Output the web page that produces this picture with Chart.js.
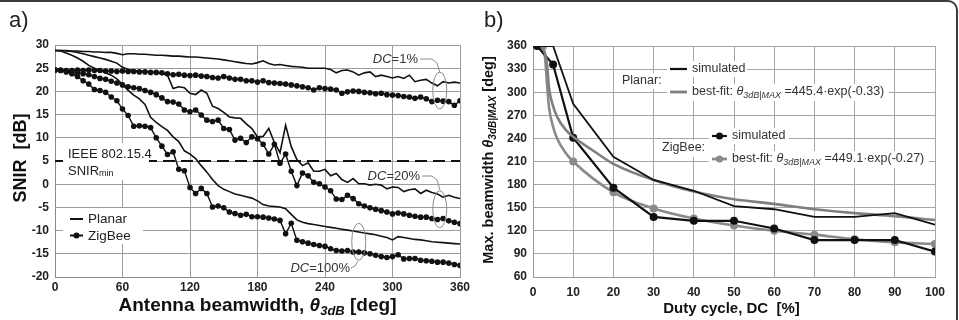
<!DOCTYPE html>
<html>
<head>
<meta charset="utf-8">
<script src="https://cdn.jsdelivr.net/npm/chart.js@4.4.1/dist/chart.umd.min.js"></script>
<style>
  html, body { margin: 0; padding: 0; background: #fff; }
  #wrap { position: relative; width: 959px; height: 320px; overflow: hidden; }
  #frame { position: absolute; left: -12px; top: 0; width: 970px; height: 340px; border: 2px solid #3c3c3c; border-radius: 10px; box-sizing: border-box; }
  canvas { position: absolute; top: 0; }
  #ca { left: 0; }
  #cb { left: 479px; }
</style>
</head>
<body>
<div id="wrap">
  <div id="frame"></div>
  <canvas id="ca" width="479" height="320"></canvas>
  <canvas id="cb" width="480" height="320"></canvas>
</div>
<script>
// ---- panel a) SNIR vs antenna beamwidth ----
const angleDeg = [0, 5, 10, 15, 20, 25, 30, 35, 40, 45, 50, 55,
  60, 65, 70, 75, 80, 85, 90, 95, 100, 105, 110, 115,
  120, 125, 130, 135, 140, 145, 150, 155, 160, 165, 170, 175,
  180, 185, 190, 195, 200, 205, 210, 215, 220, 225, 230, 235,
  240, 245, 250, 255, 260, 265, 270, 275, 280, 285, 290, 295,
  300, 305, 310, 315, 320, 325, 330, 335, 340, 345, 350, 355,
  360];

const planarDC1 = [28.8, 28.8, 28.8, 28.7, 28.7, 28.6, 28.6, 28.5, 28.5, 28.4, 28.4, 28.2,
  27.9, 28.1, 28.1, 28.0, 28.0, 27.9, 27.8, 27.8, 27.7, 27.6, 27.6, 27.5,
  27.4, 27.4, 27.3, 27.2, 27.1, 27.0, 26.8, 26.6, 26.4, 26.2, 26.0, 25.9,
  26.2, 26.6, 26.0, 25.7, 25.8, 25.6, 25.4, 25.3, 25.2, 25.0, 25.0, 25.0,
  25.0, 24.7, 24.0, 24.5, 24.6, 24.2, 23.5, 24.0, 24.2, 23.2, 23.5, 23.2,
  22.9, 23.2, 22.8, 23.5, 22.1, 22.4, 22.6, 21.8, 21.2, 22.1, 21.8, 22.0,
  21.8];

const zigbeeDC1 = [24.6, 24.6, 24.5, 24.5, 24.6, 24.5, 24.6, 24.5, 24.5, 24.4, 24.4, 24.3,
  24.4, 24.3, 24.3, 24.2, 24.2, 24.1, 24.1, 24.0, 23.8, 23.6, 23.7, 23.5,
  23.4, 23.5, 23.3, 23.2, 23.0, 22.9, 23.2, 22.9, 22.6, 22.6, 22.3, 22.3,
  22.0, 22.3, 21.9, 21.8, 21.7, 21.6, 21.4, 21.2, 21.0, 20.8, 20.3, 20.8,
  20.6, 20.5, 20.3, 19.6, 19.9, 20.1, 20.0, 19.8, 19.7, 19.5, 19.6, 19.3,
  19.2, 19.1, 18.9, 18.8, 18.5, 18.8, 18.4, 17.8, 18.1, 17.9, 17.8, 17.0,
  18.0];

const planarDC20 = [28.8, 28.8, 28.7, 28.6, 28.4, 28.1, 27.8, 27.5, 27.2, 26.9, 26.5, 26.1,
  25.2, 24.7, 24.5, 24.4, 24.3, 24.2, 24.0, 23.8, 23.5, 20.6, 21.0, 20.8,
  19.6, 19.3, 20.3, 19.6, 16.8, 16.3, 15.5, 14.5, 14.3, 14.2, 13.0, 12.0,
  10.2, 10.3, 12.0, 9.0, 6.8, 12.7, 8.1, 5.3, 4.0, 4.6, 2.8, 2.8,
  3.2, 1.8, 2.3, 1.0, 0.4, 1.2, 0.1, 0.1, -0.2, 0.0, -0.2, -1.0,
  -0.6, -0.7, -1.6, -1.2, -1.0, -2.0, -1.3, -1.8, -2.1, -2.8, -2.4, -2.8,
  -3.1];

const zigbeeDC20 = [24.6, 24.5, 24.4, 24.2, 24.0, 23.8, 23.6, 23.2, 22.8, 22.6, 22.2, 21.8,
  21.4, 21.0, 20.8, 20.6, 20.2, 19.8, 19.3, 18.6, 17.8, 17.7, 17.3, 16.0,
  15.6, 16.0, 14.9, 13.8, 13.5, 13.8, 12.0, 11.8, 9.5, 9.9, 9.0, 10.2,
  9.8, 8.6, 6.5, 8.6, 4.5, 6.5, 2.8, -0.3, 2.4, 1.8, 0.4, 0.1,
  -0.6, -1.4, -3.2, -3.3, -2.4, -3.1, -4.2, -4.7, -5.1, -5.4, -5.7, -6.0,
  -6.4, -6.2, -6.4, -6.7, -6.9, -7.1, -7.1, -7.4, -7.6, -7.4, -7.9, -8.2,
  -8.5];

const planarDC100 = [28.8, 28.7, 28.3, 27.8, 27.2, 26.5, 25.6, 25.0, 24.5, 24.0, 23.5, 22.7,
  21.5, 20.2, 19.2, 18.4, 17.2, 14.4, 13.3, 12.4, 11.6, 10.2, 9.2, 7.2,
  6.5, 5.5, 4.0, 2.6, 1.0, -0.3, -1.1, -1.6, -2.1, -2.4, -2.7, -3.0,
  -3.6, -4.4, -4.7, -4.8, -4.9, -5.3, -6.5, -7.7, -8.2, -8.5, -8.7, -8.9,
  -9.1, -9.3, -9.5, -9.7, -9.9, -10.1, -10.3, -10.5, -10.7, -10.9, -11.2, -11.5,
  -12.0, -11.3, -11.5, -11.7, -11.9, -12.0, -12.2, -12.4, -12.5, -12.6, -12.7, -12.8,
  -12.9];

const zigbeeDC100 = [24.6, 24.5, 24.2, 23.8, 23.2, 22.3, 21.6, 20.4, 20.2, 19.8, 18.8, 18.0,
  16.2, 14.8, 12.5, 12.6, 12.5, 12.2, 10.0, 8.2, 6.4, 7.0, 3.2, 2.9,
  -0.7, -2.0, -0.9, -2.0, -4.9, -4.7, -5.1, -6.0, -6.3, -6.7, -6.5, -7.0,
  -7.0, -7.1, -7.3, -7.5, -7.8, -10.7, -8.4, -12.1, -12.4, -12.7, -13.0, -13.2,
  -13.4, -13.9, -14.3, -14.4, -14.3, -14.6, -14.6, -14.8, -15.0, -15.3, -15.6, -15.8,
  -15.6, -15.2, -16.1, -16.0, -16.0, -16.4, -16.5, -16.6, -16.8, -16.8, -17.0, -17.3,
  -17.5];

const snirMin = 5; // IEEE 802.15.4 threshold [dB]

// ---- panel b) max beamwidth vs duty cycle ----
const planarSimDC = [1, 5, 10, 20, 30, 40, 50, 60, 70, 80, 90, 100];
const planarSim = [360, 360, 285, 216, 186, 172, 152, 148, 138, 138, 143, 128];
const planarFitDC = [2, 3, 3.5, 4, 5, 6, 8, 10, 15, 20, 30, 40, 50, 60, 70, 80, 90, 100];
const planarFit = [360, 350, 335, 305, 282, 268, 252, 242, 224, 207, 186, 171, 161, 155, 148, 143, 139, 134];
const zigbeeSimDC = [1, 5, 10, 20, 30, 40, 50, 60, 70, 80, 90, 100];
const zigbeeSim = [360, 336, 241, 176, 138, 133, 133, 123, 108, 108, 108, 93];
const zigbeeFitDC = [2.5, 3, 3.5, 4, 5, 6, 8, 10, 20, 30, 40, 50, 60, 70, 80, 90, 100];
const zigbeeFit = [360, 345, 310, 280, 255, 240, 222, 210, 170, 149, 136, 127, 120, 115, 109, 105, 103];
const zigbeeFitMarked = [2.5, 10, 20, 30, 40, 50, 60, 70, 80, 90, 100];

const FONT = '"Liberation Sans", Arial, sans-serif';
const pts = (xs, ys) => xs.map((x, i) => ({ x: x, y: ys[i] }));

// draws a run of text pieces with different fonts (for subscripts)
function richText(ctx, parts, x, y, align) {
  let w = 0;
  parts.forEach(p => { ctx.font = p.f; p.w = ctx.measureText(p.t).width; w += p.w; });
  let cx = align === 'center' ? x - w / 2 : (align === 'right' ? x - w : x);
  ctx.textAlign = 'left';
  ctx.textBaseline = 'middle';
  parts.forEach(p => { ctx.font = p.f; ctx.fillText(p.t, cx, y + (p.dy || 0)); cx += p.w; });
  return w;
}

function whiteBox(ctx, x, y, w, h) {
  ctx.fillStyle = '#fff';
  ctx.fillRect(x, y, w, h);
}

const decorA = {
  id: 'decorA',
  afterDraw(chart) {
    const ctx = chart.ctx, xs = chart.scales.x, ys = chart.scales.y;
    ctx.save();

    // IEEE threshold label
    whiteBox(ctx, 63, 143, 86, 37);
    ctx.fillStyle = '#222';
    richText(ctx, [{ t: 'IEEE 802.15.4', f: '13px ' + FONT }], 68, 154, 'left');
    richText(ctx, [{ t: 'SNIR', f: '13px ' + FONT }, { t: 'min', f: '9px ' + FONT, dy: 3 }], 68, 171, 'left');

    // legend
    whiteBox(ctx, 63, 208, 80, 36);
    ctx.strokeStyle = '#111';
    ctx.lineWidth = 2;
    ctx.beginPath(); ctx.moveTo(70, 219); ctx.lineTo(83, 219); ctx.stroke();
    ctx.beginPath(); ctx.moveTo(70, 235.5); ctx.lineTo(83, 235.5); ctx.stroke();
    ctx.fillStyle = '#111';
    ctx.beginPath(); ctx.arc(76.5, 235.5, 3, 0, Math.PI * 2); ctx.fill();
    ctx.fillStyle = '#222';
    richText(ctx, [{ t: 'Planar', f: '13.5px ' + FONT }], 88, 219, 'left');
    richText(ctx, [{ t: 'ZigBee', f: '13.5px ' + FONT }], 88, 236, 'left');

    // DC annotations with ellipses
    const notes = [
      { txt: '1%', tx: 418, ty: 59, ex: 342, ev: 20.2, lead: [[420, 59], [432, 59], [437, 63], [440, 73]] },
      { txt: '20%', tx: 420, ty: 176, ex: 342, ev: -5.4, lead: [[422, 176], [432, 176], [437, 180], [440, 190]] },
      { txt: '100%', tx: 350, ty: 268, ex: 270, ev: -12.4, lead: [[351, 268], [355, 266], [358, 261]] }
    ];
    notes.forEach(n => {
      ctx.fillStyle = '#333';
      richText(ctx, [{ t: 'DC', f: 'italic 13px ' + FONT }, { t: '=' + n.txt, f: '13px ' + FONT }], n.tx, n.ty, 'right');
      ctx.strokeStyle = '#8a8a8a';
      ctx.lineWidth = 1;
      ctx.beginPath();
      n.lead.forEach((p, i) => i ? ctx.lineTo(p[0], p[1]) : ctx.moveTo(p[0], p[1]));
      ctx.stroke();
      ctx.beginPath();
      ctx.ellipse(xs.getPixelForValue(n.ex), ys.getPixelForValue(n.ev), 7, 18.5, 0, 0, Math.PI * 2);
      ctx.stroke();
    });

    // axis titles
    ctx.fillStyle = '#111';
    richText(ctx, [
      { t: 'Antenna beamwidth, ', f: 'bold 19px ' + FONT },
      { t: '\u03b8', f: 'italic bold 19px ' + FONT },
      { t: '3dB', f: 'italic bold 13px ' + FONT, dy: 5 },
      { t: ' [deg]', f: 'bold 19px ' + FONT }
    ], 257.5, 306, 'center');
    ctx.save();
    ctx.translate(21, 158);
    ctx.rotate(-Math.PI / 2);
    richText(ctx, [{ t: 'SNIR  [dB]', f: 'bold 18px ' + FONT }], 0, 0, 'center');
    ctx.restore();

    ctx.fillStyle = '#222';
    richText(ctx, [{ t: 'a)', f: '22px ' + FONT }], 9, 21, 'left');
    ctx.restore();
  }
};

const decorB = {
  id: 'decorB',
  afterDraw(chart) {
    const ctx = chart.ctx;
    const o = 479; // canvas offset in page
    ctx.save();
    const f = '12.5px ' + FONT;
    const fit = coef => [
      { t: 'best-fit: ', f: f },
      { t: '\u03b8', f: 'italic ' + f },
      { t: '3dB|MAX', f: 'italic 9px ' + FONT, dy: 3 },
      { t: ' =' + coef, f: f }
    ];

    // Planar legend
    ctx.font = f;
    whiteBox(ctx, 620 - o, 73, 45, 16);
    whiteBox(ctx, 667 - o, 61, 80, 16);
    whiteBox(ctx, 667 - o, 84, 222, 17);
    ctx.fillStyle = '#333';
    richText(ctx, [{ t: 'Planar:', f: f }], 622 - o, 81, 'left');
    richText(ctx, [{ t: 'simulated', f: f }], 692 - o, 69, 'left');
    richText(ctx, fit('445.4\u00b7exp(-0.33)'), 692 - o, 92, 'left');
    ctx.lineWidth = 2.2;
    ctx.strokeStyle = '#111';
    ctx.beginPath(); ctx.moveTo(670 - o, 69); ctx.lineTo(687 - o, 69); ctx.stroke();
    ctx.strokeStyle = '#7f7f7f';
    ctx.lineWidth = 2.8;
    ctx.beginPath(); ctx.moveTo(670 - o, 92); ctx.lineTo(687 - o, 92); ctx.stroke();

    // ZigBee legend
    whiteBox(ctx, 660 - o, 140, 48, 17);
    whiteBox(ctx, 709 - o, 128, 80, 16);
    whiteBox(ctx, 709 - o, 151, 220, 17);
    ctx.fillStyle = '#333';
    richText(ctx, [{ t: 'ZigBee:', f: f }], 662 - o, 148, 'left');
    richText(ctx, [{ t: 'simulated', f: f }], 732 - o, 136, 'left');
    richText(ctx, fit('449.1\u00b7exp(-0.27)'), 732 - o, 159, 'left');
    ctx.lineWidth = 2.2;
    ctx.strokeStyle = '#111';
    ctx.fillStyle = '#111';
    ctx.beginPath(); ctx.moveTo(712 - o, 136); ctx.lineTo(727 - o, 136); ctx.stroke();
    ctx.beginPath(); ctx.arc(719.5 - o, 136, 3.5, 0, Math.PI * 2); ctx.fill();
    ctx.strokeStyle = '#8a8a8a';
    ctx.fillStyle = '#8a8a8a';
    ctx.lineWidth = 2.8;
    ctx.beginPath(); ctx.moveTo(712 - o, 159); ctx.lineTo(727 - o, 159); ctx.stroke();
    ctx.beginPath(); ctx.arc(719.5 - o, 159, 3.5, 0, Math.PI * 2); ctx.fill();

    // axis titles
    ctx.fillStyle = '#111';
    richText(ctx, [{ t: 'Duty cycle, DC  [%]', f: 'bold 15px ' + FONT }], 731.5 - o, 309, 'center');
    ctx.save();
    ctx.translate(489 - o, 160);
    ctx.rotate(-Math.PI / 2);
    richText(ctx, [
      { t: 'Max. beamwidth ', f: 'bold 14.5px ' + FONT },
      { t: '\u03b8', f: 'italic bold 14.5px ' + FONT },
      { t: '3dB|MAX', f: 'italic bold 10px ' + FONT, dy: 4 },
      { t: ' [deg]', f: 'bold 14.5px ' + FONT }
    ], 0, 0, 'center');
    ctx.restore();

    ctx.fillStyle = '#222';
    richText(ctx, [{ t: 'b)', f: '22px ' + FONT }], 484 - o, 21, 'left');
    ctx.restore();
  }
};

const tickFont = { family: FONT, size: 12, weight: 'bold' };

// panel a
const zigStyle = { borderColor: '#111', borderWidth: 1.4, pointRadius: 2.8, pointBackgroundColor: '#111', pointBorderWidth: 0 };
const planStyle = { borderColor: '#111', borderWidth: 1.6, pointRadius: 0 };

new Chart(document.getElementById('ca'), {
  type: 'line',
  data: {
    datasets: [
      Object.assign({ label: 'Planar DC=1%', data: pts(angleDeg, planarDC1) }, planStyle),
      Object.assign({ label: 'ZigBee DC=1%', data: pts(angleDeg, zigbeeDC1) }, zigStyle),
      Object.assign({ label: 'Planar DC=20%', data: pts(angleDeg, planarDC20) }, planStyle),
      Object.assign({ label: 'ZigBee DC=20%', data: pts(angleDeg, zigbeeDC20) }, zigStyle),
      Object.assign({ label: 'Planar DC=100%', data: pts(angleDeg, planarDC100) }, planStyle),
      Object.assign({ label: 'ZigBee DC=100%', data: pts(angleDeg, zigbeeDC100) }, zigStyle),
      {
        label: 'SNIRmin',
        data: [{ x: 0, y: snirMin }, { x: 360, y: snirMin }],
        borderColor: '#111', borderWidth: 2.2, borderDash: [12, 6], pointRadius: 0
      }
    ]
  },
  options: {
    responsive: false,
    animation: false,
    devicePixelRatio: 1,
    layout: { padding: { top: 45, right: 19, left: 0, bottom: 0 } },
    plugins: { legend: { display: false }, tooltip: { enabled: false } },
    scales: {
      x: {
        type: 'linear', min: 0, max: 360,
        ticks: { stepSize: 60, autoSkip: false, padding: 3, color: '#222', font: tickFont },
        grid: { color: '#9c9c9c', drawTicks: false },
        border: { color: '#8a8a8a' },
        afterFit: s => { s.height = 43; }
      },
      y: {
        min: -20, max: 30,
        ticks: { stepSize: 5, autoSkip: false, padding: 6, color: '#222', font: tickFont },
        grid: { color: '#9c9c9c', drawTicks: false },
        border: { color: '#8a8a8a' },
        afterFit: s => { s.width = 55; }
      }
    }
  },
  plugins: [decorA]
});

// panel b
new Chart(document.getElementById('cb'), {
  type: 'line',
  data: {
    datasets: [
      {
        label: 'Planar simulated', data: pts(planarSimDC, planarSim),
        borderColor: '#111', borderWidth: 1.8, pointRadius: 0
      },
      {
        label: 'Planar best-fit', data: pts(planarFitDC, planarFit),
        borderColor: '#7f7f7f', borderWidth: 2.6, pointRadius: 0, cubicInterpolationMode: 'monotone'
      },
      {
        label: 'ZigBee simulated', data: pts(zigbeeSimDC, zigbeeSim),
        borderColor: '#111', borderWidth: 2.2, pointRadius: 4, pointBackgroundColor: '#111', pointBorderWidth: 0
      },
      {
        label: 'ZigBee best-fit', data: pts(zigbeeFitDC, zigbeeFit),
        borderColor: '#8a8a8a', borderWidth: 2.6, cubicInterpolationMode: 'monotone',
        pointRadius: zigbeeFitDC.map(d => zigbeeFitMarked.includes(d) ? 4 : 0),
        pointBackgroundColor: '#8a8a8a', pointBorderWidth: 0
      }
    ]
  },
  options: {
    responsive: false,
    animation: false,
    devicePixelRatio: 1,
    layout: { padding: { top: 46, right: 24, left: 0, bottom: 0 } },
    plugins: { legend: { display: false }, tooltip: { enabled: false } },
    scales: {
      x: {
        type: 'linear', min: 0, max: 100,
        ticks: { stepSize: 10, autoSkip: false, padding: 8, color: '#222', font: tickFont },
        grid: { color: '#a6a6a6', drawTicks: false },
        border: { color: '#999' },
        afterFit: s => { s.height = 43; }
      },
      y: {
        min: 60, max: 360,
        ticks: { stepSize: 30, autoSkip: false, padding: 6, color: '#222', font: tickFont },
        grid: { color: '#a6a6a6', drawTicks: false },
        border: { color: '#999' },
        afterFit: s => { s.width = 54; }
      }
    }
  },
  plugins: [decorB]
});
</script>
</body>
</html>
